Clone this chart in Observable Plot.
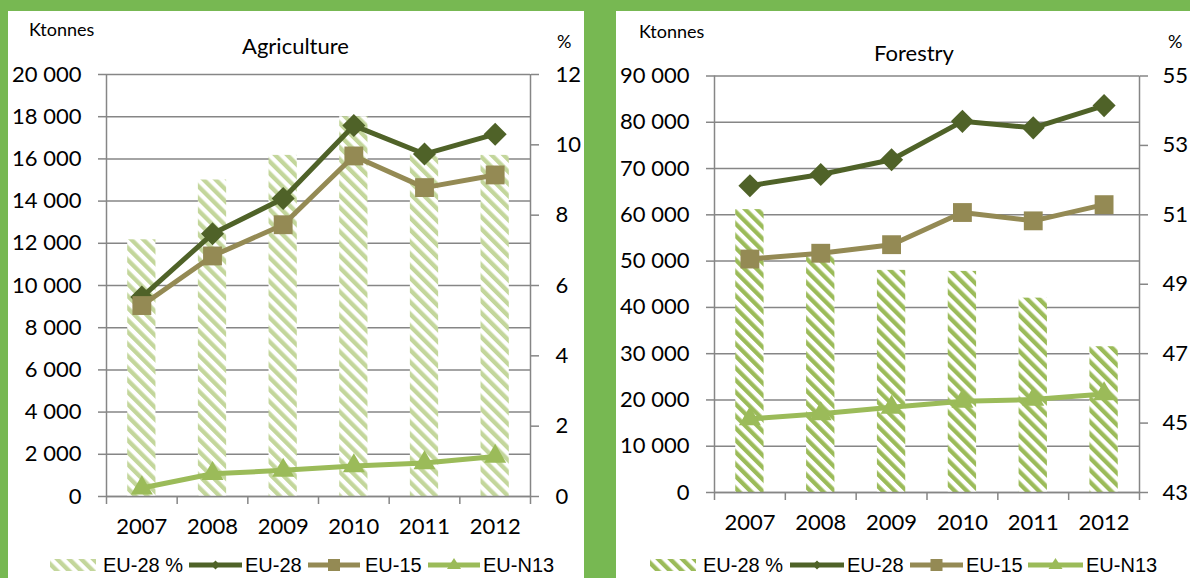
<!DOCTYPE html>
<html><head><meta charset="utf-8">
<script src="https://cdn.jsdelivr.net/npm/d3@7"></script>
<script src="https://cdn.jsdelivr.net/npm/@observablehq/plot@0.6"></script>
<style>
html,body{margin:0;padding:0;}
body{width:1190px;height:578px;background:#77b852;position:relative;overflow:hidden;}
.panel{position:absolute;background:#fff;}
#pA{left:8px;top:11px;width:576px;height:567px;}
#pF{left:616px;top:11px;width:574px;height:567px;}
.panel svg{position:absolute;left:0;top:0;}
#overlay{position:absolute;left:0;top:0;}
#overlay .t{font-family:Lato,sans-serif;fill:#000;}
#overlay .lg{font-family:"Liberation Sans",Arial,sans-serif;font-size:20px;fill:#000;}
</style></head><body>
<svg width="0" height="0" style="position:absolute">
  <defs>
    <pattern id="hatchA" patternUnits="userSpaceOnUse" width="8.5" height="8.5" patternTransform="rotate(-45)">
      <rect width="8.5" height="8.5" fill="#fff"/>
      <rect width="4.3" height="8.5" fill="#c3d69b"/>
    </pattern>
    <pattern id="hatchF" patternUnits="userSpaceOnUse" width="8.5" height="8.5" patternTransform="rotate(-45)">
      <rect width="8.5" height="8.5" fill="#fff"/>
      <rect width="4.3" height="8.5" fill="#9bbb59"/>
    </pattern>
  </defs>
</svg>
<div class="panel" id="pA"></div>
<div class="panel" id="pF"></div>
<svg id="overlay" width="1190" height="578">
  <text class="t" x="29" y="36" font-size="18">Ktonnes</text>
  <text class="t" x="295.5" y="54" font-size="22" text-anchor="middle">Agriculture</text>
  <text class="t" x="557" y="48" font-size="18">%</text>
  <text class="t" x="639" y="38" font-size="18">Ktonnes</text>
  <text class="t" x="914" y="61" font-size="22" text-anchor="middle">Forestry</text>
  <text class="t" x="1168" y="48" font-size="18">%</text>

  <rect x="50" y="559" width="46" height="12" fill="url(#hatchA)"/>
  <text class="lg" x="103" y="572">EU-28 %</text>
  <line x1="189" x2="242" y1="565" y2="565" stroke="#4f6228" stroke-width="5"/>
  <path d="M215.5,560.5L220,565L215.5,569.5L211,565Z" fill="#4f6228"/>
  <text class="lg" x="245" y="572">EU-28</text>
  <line x1="308" x2="360" y1="565" y2="565" stroke="#948a54" stroke-width="5"/>
  <rect x="328" y="559" width="12" height="12" fill="#948a54"/>
  <text class="lg" x="365" y="572">EU-15</text>
  <line x1="428" x2="480" y1="565" y2="565" stroke="#9bbb59" stroke-width="5"/>
  <path d="M454,558L461,569L447,569Z" fill="#9bbb59"/>
  <text class="lg" x="483" y="572">EU-N13</text>

  <rect x="650" y="559" width="46" height="12" fill="url(#hatchF)"/>
  <text class="lg" x="703" y="572">EU-28 %</text>
  <line x1="790" x2="844" y1="565" y2="565" stroke="#4f6228" stroke-width="5"/>
  <path d="M817,560.5L821.5,565L817,569.5L812.5,565Z" fill="#4f6228"/>
  <text class="lg" x="847" y="572">EU-28</text>
  <line x1="910" x2="963" y1="565" y2="565" stroke="#948a54" stroke-width="5"/>
  <rect x="930.5" y="559" width="12" height="12" fill="#948a54"/>
  <text class="lg" x="966" y="572">EU-15</text>
  <line x1="1028" x2="1083" y1="565" y2="565" stroke="#9bbb59" stroke-width="5"/>
  <path d="M1055.5,558L1062.5,569L1048.5,569Z" fill="#9bbb59"/>
  <text class="lg" x="1086" y="572">EU-N13</text>
</svg>
<script>
// ---- data ----
const years = [2007, 2008, 2009, 2010, 2011, 2012];

const agriPct  = [7.3, 9.0, 9.7, 10.8, 9.75, 9.7];
const agriEU28 = [9450, 12450, 14120, 17580, 16230, 17170];
const agriEU15 = [9050, 11400, 12880, 16140, 14640, 15240];
const agriN13  = [400, 1080, 1240, 1450, 1590, 1900];

const forPct  = [51.15, 49.9, 49.4, 49.37, 48.6, 47.2];
const forEU28 = [66300, 68700, 71900, 80200, 78800, 83600];
const forEU15 = [50450, 51700, 53550, 60500, 58700, 62200];
const forN13  = [15900, 17000, 18400, 19700, 20100, 21300];

const agriLeftTicks  = [0, 2000, 4000, 6000, 8000, 10000, 12000, 14000, 16000, 18000, 20000];
const agriRightTicks = [0, 2, 4, 6, 8, 10, 12];
const forLeftTicks   = [0, 10000, 20000, 30000, 40000, 50000, 60000, 70000, 80000, 90000];
const forRightTicks  = [43, 45, 47, 49, 51, 53, 55];

const colors = {eu28: "#4f6228", eu15: "#948a54", n13: "#9bbb59"};
const grey = "#868686";

const fmtK = d => String(d).replace(/\B(?=(\d{3})+(?!\d))/g, " ");

function panel(o) {
  const rows = years.map((year, i) => ({year, pct: o.pct[i], eu28: o.eu28[i], eu15: o.eu15[i], n13: o.n13[i]}));
  const bounds = [...years.map(y => y - 0.5), years[years.length - 1] + 0.5];
  const series = [["eu28", "diamond2", 10.4], ["eu15", "square2", 12], ["n13", "triangle2", 10.5]];
  const marks = [
    Plot.gridY(o.leftTicks, {stroke: grey, strokeOpacity: 1, strokeWidth: 1.5}),
    Plot.rectY(rows, {x1: d => d.year - 0.2, x2: d => d.year + 0.2, y1: 0, y2: d => o.toY(d.pct), fill: o.hatch}),
    Plot.ruleX([bounds[0], bounds[bounds.length - 1]], {stroke: grey, strokeWidth: 1.5}),
    Plot.ruleY([0], {stroke: grey, strokeWidth: 1.5}),
    Plot.axisY(o.leftTicks, {anchor: "left", label: null, tickSize: 8, tickPadding: 17, stroke: grey, strokeWidth: 1.5, fill: "#000", tickFormat: fmtK}),
    Plot.axisY(o.rightTicks.map(o.toY), {anchor: "right", label: null, tickSize: 8, tickPadding: o.rightPad, stroke: grey, strokeWidth: 1.5, fill: "#000", tickFormat: d => String(Math.round(o.fromY(d)))}),
    Plot.axisX(bounds, {anchor: "bottom", label: null, tickSize: 8, stroke: grey, strokeWidth: 1.5, tickFormat: () => ""}),
    Plot.axisX(years, {anchor: "bottom", label: null, tickSize: 0, tickPadding: 22, fill: "#000", tickFormat: d => String(d)})
  ];
  for (const [key, symbol, r] of series) {
    marks.push(Plot.line(rows, {x: "year", y: key, stroke: colors[key], strokeWidth: 5, strokeLinejoin: "round"}));
    marks.push(Plot.dot(rows, {x: "year", y: key, symbol, r, fill: colors[key], stroke: "none"}));
  }
  return Plot.plot({
    width: o.width, height: 530,
    marginLeft: 98, marginRight: o.marginRight, marginTop: o.marginTop, marginBottom: o.marginBottom,
    x: {type: "linear", domain: [bounds[0], bounds[bounds.length - 1]], label: null},
    y: {domain: [0, o.yMax], label: null},
    style: {fontFamily: "Lato, sans-serif", fontSize: "22px", background: "transparent", color: "#000", overflow: "visible"},
    marks
  });
}

const kA = 20000 / 12;
document.getElementById("pA").appendChild(panel({
  pct: agriPct, eu28: agriEU28, eu15: agriEU15, n13: agriN13,
  leftTicks: agriLeftTicks, rightTicks: agriRightTicks,
  toY: p => p * kA, fromY: y => y / kA, yMax: 20000, hatch: "url(#hatchA)",
  width: 576, marginRight: 54, marginTop: 63, marginBottom: 45, rightPad: 17
}));

const kF = 90000 / 12;
document.getElementById("pF").appendChild(panel({
  pct: forPct, eu28: forEU28, eu15: forEU15, n13: forN13,
  leftTicks: forLeftTicks, rightTicks: forRightTicks,
  toY: p => (p - 43) * kF, fromY: y => y / kF + 43, yMax: 90000, hatch: "url(#hatchF)",
  width: 574, marginRight: 51, marginTop: 64.5, marginBottom: 49, rightPad: 15
}));
</script>
</body></html>
